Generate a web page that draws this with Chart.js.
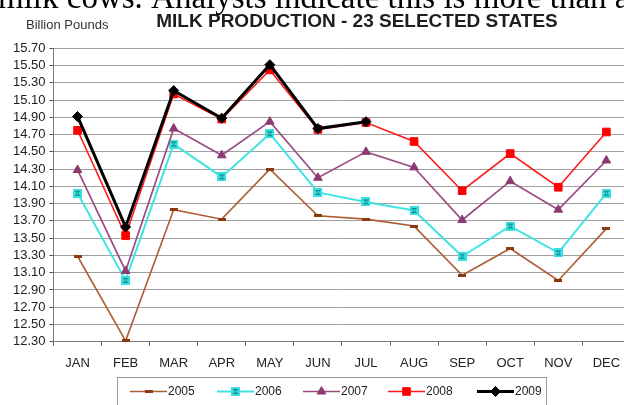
<!DOCTYPE html>
<html>
<head>
<meta charset="utf-8">
<script src="https://cdn.jsdelivr.net/npm/chart.js@4.4.1/dist/chart.umd.min.js"></script>
<style>
  html, body { margin: 0; padding: 0; background: #fff; overflow: hidden; }
  #wrap { position: relative; width: 624px; height: 405px; overflow: hidden; }
  #c { position: absolute; left: 0; top: 0; }
</style>
</head>
<body>
<div id="wrap"><canvas id="c" width="640" height="405"></canvas></div>
<script>
// Monthly milk production, 23 selected states (billion pounds)
const months = ['JAN', 'FEB', 'MAR', 'APR', 'MAY', 'JUN', 'JUL', 'AUG', 'SEP', 'OCT', 'NOV', 'DEC'];
const years = ['2005', '2006', '2007', '2008', '2009'];
const prod2005 = [13.29, 12.31, 13.83, 13.72, 14.30, 13.76, 13.72, 13.64, 13.07, 13.38, 13.01, 13.61];
const prod2006 = [14.02, 13.01, 14.59, 14.21, 14.71, 14.03, 13.92, 13.82, 13.29, 13.64, 13.33, 14.02];
const prod2007 = [14.29, 13.12, 14.77, 14.46, 14.85, 14.20, 14.50, 14.32, 13.71, 14.16, 13.83, 14.40];
const prod2008 = [14.75, 13.53, 15.17, 14.88, 15.45, 14.76, 14.84, 14.62, 14.05, 14.48, 14.09, 14.73];
const prod2009 = [14.91, 13.63, 15.21, 14.89, 15.51, 14.77, 14.85, null, null, null, null, null];
const yTicks = [12.30, 12.50, 12.70, 12.90, 13.10, 13.30, 13.50, 13.70, 13.90,
                14.10, 14.30, 14.50, 14.70, 14.90, 15.10, 15.30, 15.50, 15.70];

const SANS = '"Liberation Sans", Arial, sans-serif';

// small custom marker glyphs
function dashMarker() {
  const c = document.createElement('canvas');
  c.width = 8; c.height = 3;
  const g = c.getContext('2d');
  g.fillStyle = '#8B3A10';
  g.fillRect(0, 0, 8, 3);
  return c;
}
function hourglassMarker() {
  const c = document.createElement('canvas');
  c.width = 9; c.height = 9;
  const g = c.getContext('2d');
  g.fillStyle = '#36E0E0';
  g.fillRect(0, 0, 9, 9);
  g.strokeStyle = '#128A8A';
  g.lineWidth = 1;
  g.beginPath();
  g.moveTo(2, 2.5); g.lineTo(7, 2.5);
  g.moveTo(2, 6.5); g.lineTo(7, 6.5);
  g.moveTo(2.5, 2.5); g.lineTo(6.5, 6.5);
  g.moveTo(6.5, 2.5); g.lineTo(2.5, 6.5);
  g.stroke();
  return c;
}

const seriesStyle = [
  { data: prod2005, color: '#AE5C33', width: 1.6, point: dashMarker(), ptColor: '#8B3A10', radius: 4, order: 4 },
  { data: prod2006, color: '#3FE3E3', width: 2, point: hourglassMarker(), ptColor: '#36E0E0', radius: 4.5, order: 3 },
  { data: prod2007, color: '#9A4C80', width: 1.7, point: 'triangle', ptColor: '#8E3A72', radius: 5, order: 2 },
  { data: prod2008, color: '#FF1A1A', width: 1.6, point: 'rect', ptColor: '#FF0000', radius: 5.4, order: 1 },
  { data: prod2009, color: '#000000', width: 3, point: 'rectRot', ptColor: '#000000', radius: 5, order: 0 }
];

const datasets = years.map((y, i) => {
  const s = seriesStyle[i];
  return {
    label: y,
    data: s.data,
    borderColor: s.color,
    borderWidth: s.width,
    pointStyle: s.point,
    pointRadius: s.radius,
    pointHoverRadius: s.radius,
    pointBackgroundColor: s.ptColor,
    pointBorderColor: s.ptColor,
    pointBorderWidth: 1,
    tension: 0,
    spanGaps: false,
    clip: false,
    order: s.order
  };
});

// titles, units and the boxed legend
const decorations = {
  id: 'decorations',
  afterDraw(chart) {
    const ctx = chart.ctx;
    ctx.save();
    // running text of the page, cut off at the top edge
    ctx.fillStyle = '#000';
    ctx.font = '33px "Liberation Serif", "Times New Roman", serif';
    ctx.textAlign = 'left';
    ctx.textBaseline = 'alphabetic';
    ctx.fillText('milk cows. Analysts indicate this is more than a', -2, 8);

    ctx.fillStyle = '#1e1e1e';
    ctx.font = 'bold 19px ' + SANS;
    ctx.textAlign = 'center';
    ctx.textBaseline = 'middle';
    ctx.fillText('MILK PRODUCTION - 23 SELECTED STATES', 357, 22);

    ctx.fillStyle = '#333';
    ctx.font = '13px ' + SANS;
    ctx.textAlign = 'left';
    ctx.fillText('Billion Pounds', 26, 25.5);

    // legend
    ctx.strokeStyle = '#9a9a9a';
    ctx.lineWidth = 1;
    ctx.strokeRect(117.5, 377.5, 429, 40);
    const starts = [130, 217, 303, 388, 477];
    const ly = 391.5;
    chart.data.datasets.forEach((ds, i) => {
      const x0 = starts[i], x1 = x0 + 37;
      ctx.strokeStyle = ds.borderColor;
      ctx.lineWidth = ds.borderWidth;
      ctx.beginPath();
      ctx.moveTo(x0, ly); ctx.lineTo(x1, ly);
      ctx.stroke();
      ctx.fillStyle = ds.pointBackgroundColor;
      ctx.strokeStyle = ds.pointBorderColor;
      ctx.lineWidth = ds.pointBorderWidth;
      Chart.helpers.drawPoint(ctx, {
        pointStyle: ds.pointStyle,
        radius: ds.pointRadius,
        borderWidth: ds.pointBorderWidth,
        rotation: 0
      }, (x0 + x1) / 2, ly);
      ctx.fillStyle = '#222';
      ctx.font = '12px ' + SANS;
      ctx.textAlign = 'left';
      ctx.textBaseline = 'middle';
      ctx.fillText(ds.label, x1 + 1, ly);
    });
    ctx.restore();
  }
};

new Chart(document.getElementById('c'), {
  type: 'line',
  data: { labels: months, datasets },
  options: {
    responsive: false,
    devicePixelRatio: 1,
    animation: false,
    events: [],
    layout: { padding: { top: 48.3, right: 9.6, bottom: 0, left: 0 } },
    plugins: { legend: { display: false }, tooltip: { enabled: false }, title: { display: false } },
    scales: {
      x: {
        offset: true,
        afterFit(scale) { scale.height = 63.3; },
        grid: { display: true, drawOnChartArea: false, drawTicks: true, tickLength: 4, tickColor: '#666', offset: true },
        border: { display: true, color: '#7a7a7a', width: 1 },
        ticks: { color: '#222', font: { family: SANS, size: 13 }, padding: 10, maxRotation: 0, autoSkip: false }
      },
      y: {
        min: 12.3,
        max: 15.7,
        afterFit(scale) { scale.width = 53.5; },
        afterBuildTicks(scale) { scale.ticks = yTicks.map(v => ({ value: v })); },
        grid: { color: '#a0a0a0', lineWidth: 1, drawTicks: true, tickLength: 4, tickColor: '#555' },
        border: { display: true, color: '#7a7a7a', width: 1 },
        ticks: {
          color: '#222',
          font: { family: SANS, size: 13 },
          padding: 4,
          autoSkip: false,
          callback: v => Number(v).toFixed(2)
        }
      }
    }
  },
  plugins: [decorations]
});
</script>
</body>
</html>
